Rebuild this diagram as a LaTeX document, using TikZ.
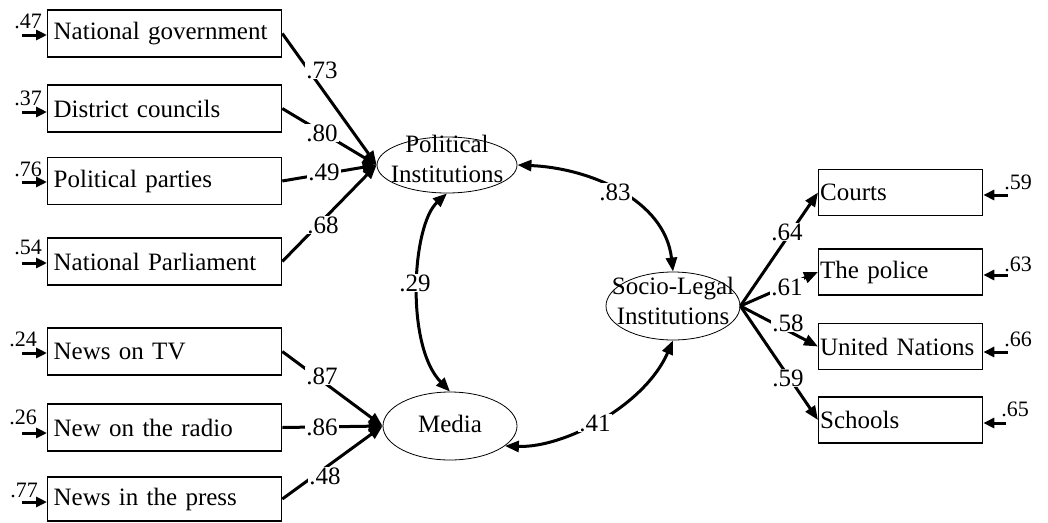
\documentclass[tikz,border=0pt]{standalone}
\usepackage{fontspec}
\setmainfont{Liberation Serif}
\usetikzlibrary{arrows.meta,shapes.geometric}
\begin{document}
\begin{tikzpicture}[x=1pt,y=-1pt,
  obox/.style={draw,line width=1.3pt,minimum height=47pt,text width=222pt,inner xsep=6pt,inner ysep=0pt,align=left,anchor=west,font=\fontsize{25}{30}\selectfont},
  rbox/.style={draw,line width=1.3pt,minimum height=46pt,text width=161pt,inner xsep=1.5pt,inner ysep=0pt,align=left,anchor=west,font=\fontsize{25}{30}\selectfont},
  lat/.style={draw,ellipse,line width=0.8pt,inner sep=0pt},
  lattxt/.style={align=center,font=\fontsize{25}{30}\selectfont,inner sep=0pt},
  load/.style={line width=3pt,-{Triangle[length=14pt,width=11pt]}},
  corr/.style={line width=3pt,{Triangle[length=14pt,width=11pt]}-{Triangle[length=14pt,width=11pt]}},
  plab/.style={fill=white,inner sep=1pt,font=\fontsize{25}{30}\selectfont},
  elab/.style={inner sep=0pt,font=\fontsize{22}{26}\selectfont},
  earr/.style={line width=3pt,-{Triangle[length=11pt,width=10pt]}},
]
\useasboundingbox (0,0) rectangle (1048,522);
\fill[white] (0,0) rectangle (1048,522);

% observed variables, left
\node[obox] (NG) at (47,33.5) {National government};
\node[obox] (DC) at (47,108.5) {District councils};
\node[obox] (PP) at (47,181) {Political parties};
\node[obox] (NP) at (47,261.5) {National Parliament};
\node[obox] (TV) at (47,351.5) {News on TV};
\node[obox] (RA) at (47,427.5) {New on the radio};
\node[obox,minimum height=44pt] (PR) at (47,499) {News in the press};

% observed variables, right
\node[rbox] (CO) at (818,192.5) {Courts};
\node[rbox] (PO) at (818,272) {The police};
\node[rbox] (UN) at (818,346.5) {United Nations};
\node[rbox] (SC) at (818,420) {Schools};

% latent variables
\node[lat,minimum width=140pt,minimum height=56pt] (PI) at (447,165) {};
\node[lat,minimum width=134pt,minimum height=68pt] (SL) at (673,306) {};
\node[lat,minimum width=134pt,minimum height=68pt] (ME) at (450,426) {};
\node[lattxt] (PIt) at (447,159) {Political\\Institutions};
\node[lattxt] (SLt) at (673,301) {Socio-Legal\\Institutions};
\node[lattxt] (MEt) at (450,424) {Media};

% loadings
\draw[load] (NG.east) -- (PI.west);
\draw[load] (DC.east) -- (PI.west);
\draw[load] (PP.east) -- (PI.west);
\draw[load] (NP.east) -- (PI.west);
\draw[load] (TV.east) -- (ME.west);
\draw[load] (RA.east) -- (ME.west);
\draw[load] (PR.east) -- (ME.west);
\draw[load] (SL.east) -- (CO.west);
\draw[load] (SL.east) -- (PO.west);
\draw[load] (SL.east) -- (UN.west);
\draw[load] (SL.east) -- (SC.west);

% correlations
\draw[corr] (PI.east) .. controls (590,168) and (665,200) .. (SL.north);
\draw[corr] (PI.south) .. controls (412,225) and (405,345) .. (ME.north);
\draw[corr] (ME.-20) .. controls (565,448) and (645,405) .. (SL.south);

% path labels
\node[plab] (l73) at (322,70) {.73};
\node[plab] (l80) at (322,133) {.80};
\node[plab] (l49) at (324,172) {.49};
\node[plab] (l68) at (323,225) {.68};
\node[plab] (l87) at (322,376) {.87};
\node[plab] (l86) at (322,427) {.86};
\node[plab] (l48) at (325,476) {.48};
\node[plab] (l29) at (415,283) {.29};
\node[plab] (l83) at (615,192) {.83};
\node[plab] (l41) at (595,423) {.41};
\node[plab] (l64) at (787,232) {.64};
\node[plab] (l61) at (787,287) {.61};
\node[plab] (l58) at (788,323) {.58};
\node[plab] (l59) at (788,378) {.59};

% error terms, left
\coordinate (e1a) at (22,35);
\coordinate (e2a) at (22,112);
\coordinate (e3a) at (22,182);
\coordinate (e4a) at (22,263);
\coordinate (e5a) at (22,353);
\coordinate (e6a) at (22,433);
\coordinate (e7a) at (22,502);
\draw[earr] (e1a) -- (e1a -| NG.west);
\draw[earr] (e2a) -- (e2a -| DC.west);
\draw[earr] (e3a) -- (e3a -| PP.west);
\draw[earr] (e4a) -- (e4a -| NP.west);
\draw[earr] (e5a) -- (e5a -| TV.west);
\draw[earr] (e6a) -- (e6a -| RA.west);
\draw[earr] (e7a) -- (e7a -| PR.west);
\node[elab] (e1) at (28,21) {.47};
\node[elab] (e2) at (28,98) {.37};
\node[elab] (e3) at (28,169) {.76};
\node[elab] (e4) at (28,247) {.54};
\node[elab] (e5) at (23,339) {.24};
\node[elab] (e6) at (23,417) {.26};
\node[elab] (e7) at (24,490) {.77};

% error terms, right
\coordinate (r1a) at (1008,195);
\coordinate (r2a) at (1008,275);
\coordinate (r3a) at (1008,352);
\coordinate (r4a) at (1006,423);
\draw[earr] (r1a) -- (r1a -| CO.east);
\draw[earr] (r2a) -- (r2a -| PO.east);
\draw[earr] (r3a) -- (r3a -| UN.east);
\draw[earr] (r4a) -- (r4a -| SC.east);
\node[elab] (r1) at (1018,182) {.59};
\node[elab] (r2) at (1018,264) {.63};
\node[elab] (r3) at (1018,339) {.66};
\node[elab] (r4) at (1015,409) {.65};
\end{tikzpicture}
\end{document}
